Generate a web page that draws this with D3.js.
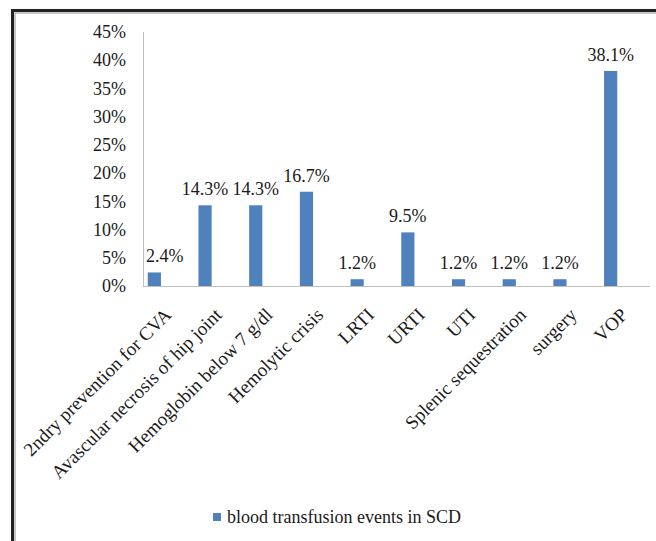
<!DOCTYPE html>
<html>
<head>
<meta charset="utf-8">
<script src="https://cdn.jsdelivr.net/npm/d3@7/dist/d3.min.js"></script>
<style>
  html, body { margin: 0; padding: 0; background: #fff; }
  svg { display: block; }
</style>
</head>
<body>
<svg id="chart" width="656" height="541"></svg>
<script>
// Causes of blood transfusion events in sickle cell disease (percent of events)
const categories = [
  "2ndry prevention for CVA",
  "Avascular necrosis of hip joint",
  "Hemoglobin below 7 g/dl",
  "Hemolytic crisis",
  "LRTI",
  "URTI",
  "UTI",
  "Splenic sequestration",
  "surgery",
  "VOP"
];
const values = [2.4, 14.3, 14.3, 16.7, 1.2, 9.5, 1.2, 1.2, 1.2, 38.1];
const yTicks = [0, 5, 10, 15, 20, 25, 30, 35, 40, 45];
const seriesName = "blood transfusion events in SCD";

const FONT = "'Liberation Serif', 'Times New Roman', Times, serif";
const TEXT = "#1a1a1a";

const svg = d3.select("#chart")
  .attr("font-family", FONT);
const barColor = "#4f81bd";
const axisColor = "#c0c0c0";

// frame around the figure (left and top edges)
svg.append("path")
  .attr("d", "M12.5,541 V10.5 H656")
  .attr("fill", "none").attr("stroke", "#222").attr("stroke-width", 3);
svg.append("path")
  .attr("d", "M15,541 V13 H656")
  .attr("fill", "none").attr("stroke", "#b5b5b5").attr("stroke-width", 1.5);

const axisX = 143, baseY = 286, topY = 32, rightX = 650;

const x = d3.scaleBand().domain(categories).range([129, 636]).paddingInner(0.74).paddingOuter(0.37);
const y = d3.scaleLinear().domain([0, 45]).range([baseY, topY]);

// y axis: line plus percent labels
const yAxis = d3.axisLeft(y).tickValues(yTicks).tickSize(0).tickPadding(17)
  .tickFormat(d => d + "%");
const gy = svg.append("g").attr("transform", `translate(${axisX},0)`).call(yAxis)
  .attr("font-family", FONT).attr("font-size", 18);
gy.select(".domain").remove();
gy.selectAll("text").attr("fill", TEXT);
svg.append("line").attr("x1", axisX + 0.5).attr("x2", axisX + 0.5)
  .attr("y1", topY).attr("y2", baseY).attr("stroke", axisColor);

// bars
svg.append("g").selectAll("rect").data(values).join("rect")
  .attr("x", (d, i) => x(categories[i]))
  .attr("width", x.bandwidth())
  .attr("y", d => y(d))
  .attr("height", d => y(0) - y(d))
  .attr("fill", barColor);

// x baseline
svg.append("line").attr("x1", axisX).attr("x2", rightX)
  .attr("y1", baseY + 0.5).attr("y2", baseY + 0.5).attr("stroke", axisColor);

// value labels above the bars, kept inside the plot area
const labels = svg.append("g").selectAll("text").data(values).join("text")
  .attr("text-anchor", "middle")
  .attr("font-size", 18)
  .attr("fill", TEXT)
  .attr("y", d => y(d) - 10)
  .text(d => d.toFixed(1) + "%");
labels.attr("x", function (d, i) {
  const c = x(categories[i]) + x.bandwidth() / 2;
  const half = this.getComputedTextLength() / 2;
  return Math.max(c, axisX + half + 3);
});

// rotated category labels
svg.append("g").selectAll("text").data(categories).join("text")
  .attr("font-size", 19)
  .attr("fill", TEXT)
  .attr("text-anchor", "end")
  .attr("transform", d => `translate(${x(d) + x.bandwidth() / 2 + 18},${baseY + 30}) rotate(-45)`)
  .text(d => d);

// legend
const legend = svg.append("g").attr("transform", "translate(213,513)");
legend.append("rect").attr("width", 8).attr("height", 8).attr("fill", barColor);
legend.append("text").attr("x", 14).attr("y", 9.5).attr("font-size", 18).attr("fill", TEXT).text(seriesName);
</script>
</body>
</html>
